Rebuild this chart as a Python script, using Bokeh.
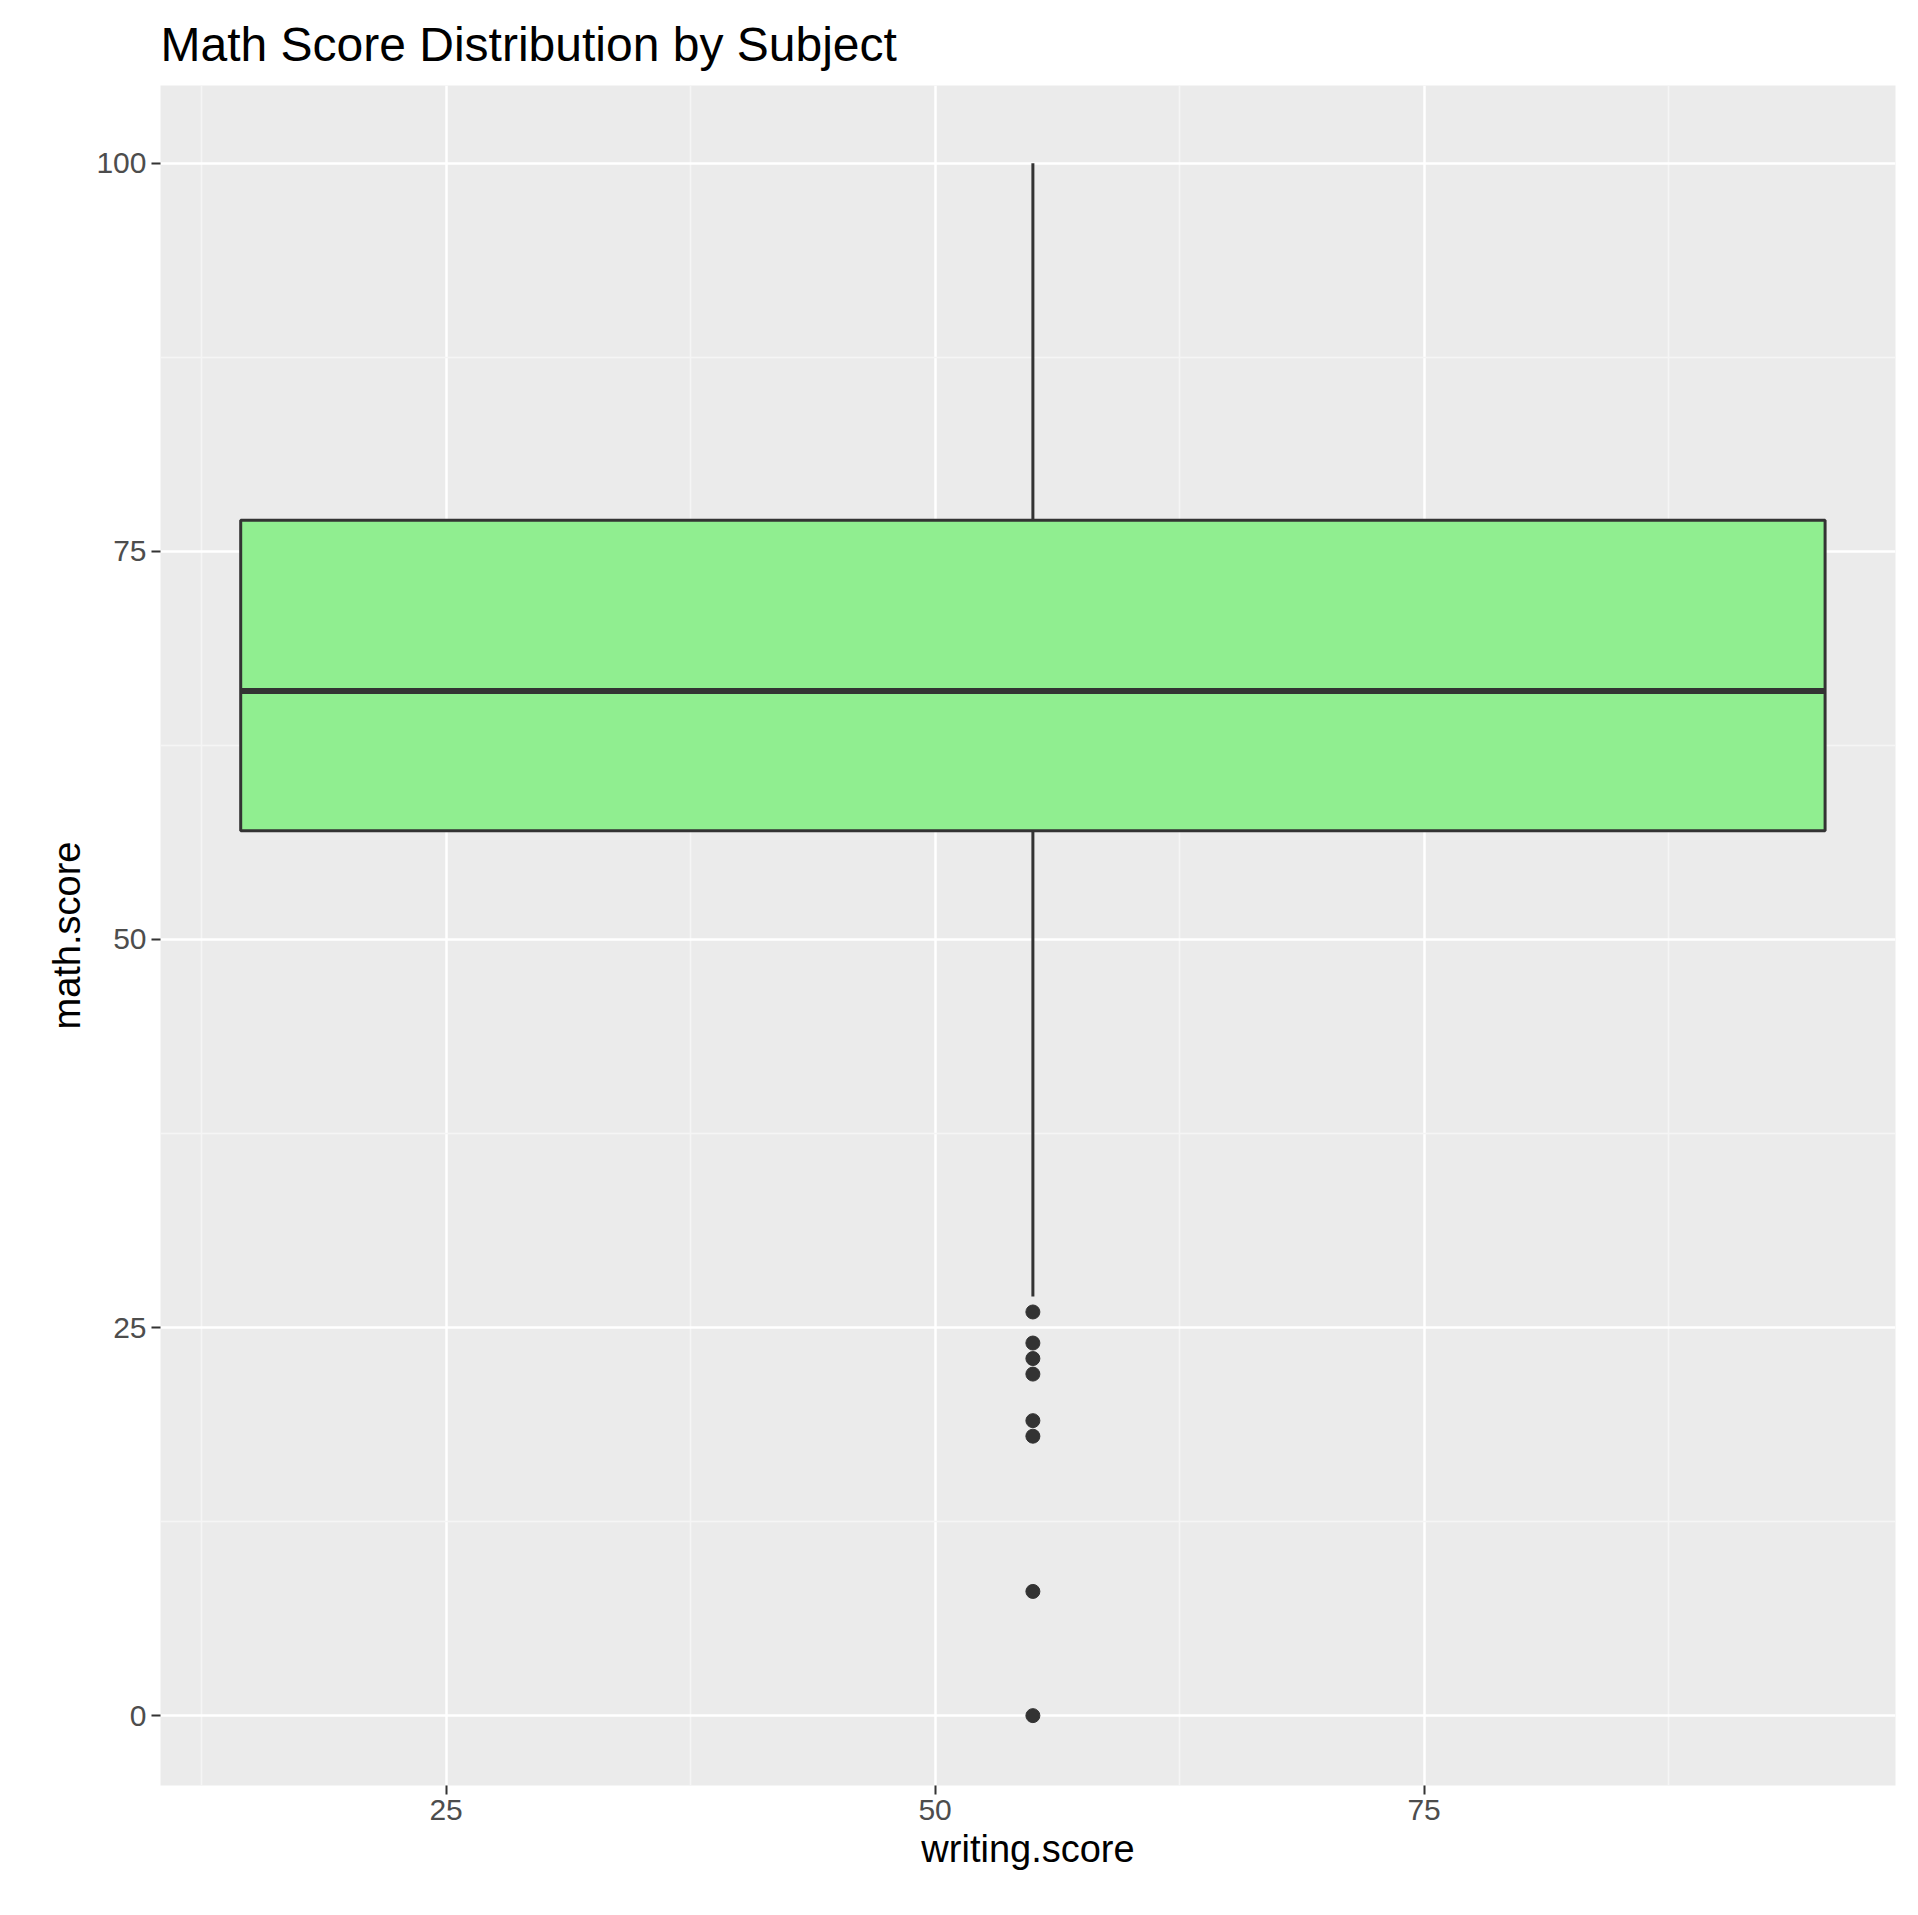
from bokeh.plotting import figure
from bokeh.models import FixedTicker, Range1d
from bokeh.embed import file_html
from bokeh.resources import INLINE

# box statistics of math.score
q1, median, q3 = 57, 66, 77
whisker_low, whisker_high = 27, 100
outliers = [26, 24, 23, 22, 19, 18, 8, 0]
box_center = 55
box_width = 81

x_ticks = [25, 50, 75]
y_ticks = [0, 25, 50, 75, 100]

p = figure(width=1905, height=1895, output_backend="svg", toolbar_location=None,
           title="Math Score Distribution by Subject",
           x_range=Range1d(10.4, 99.1), y_range=Range1d(-4.5, 105))
p.min_border_left = 160
p.min_border_right = 10
p.min_border_bottom = 110
p.background_fill_color = "#EBEBEB"
p.outline_line_color = None
p.title.text_font = "Arial"
p.title.text_font_size = "48px"
p.title.text_font_style = "normal"
p.title.text_color = "black"
p.title.offset = 0
p.title.standoff = 30

for ax, ticks in ((p.xaxis, x_ticks), (p.yaxis, y_ticks)):
    ax.ticker = FixedTicker(ticks=ticks, minor_ticks=[t + 12.5 for t in [0] + ticks] + [t - 12.5 for t in ticks])
    ax.axis_line_color = None
    ax.major_tick_in = 0
    ax.major_tick_out = 9
    ax.major_tick_line_color = "#333333"
    ax.major_tick_line_width = 2
    ax.minor_tick_line_color = None
    ax.major_label_text_font = "Arial"
    ax.major_label_text_font_size = "30px"
    ax.major_label_text_color = "#4D4D4D"
    ax.axis_label_text_font = "Arial"
    ax.axis_label_text_font_size = "38px"
    ax.axis_label_text_font_style = "normal"
    ax.axis_label_text_color = "black"
p.xaxis.axis_label = "writing.score"
p.yaxis.axis_label = "math.score"

p.grid.grid_line_color = "white"
p.grid.grid_line_width = 2.5
p.grid.minor_grid_line_color = "#F5F5F5"
p.grid.minor_grid_line_width = 1.5

p.segment(x0=[box_center, box_center], y0=[q3, whisker_low], x1=[box_center, box_center], y1=[whisker_high, q1],
          line_color="#333333", line_width=3)
p.quad(left=[box_center - box_width / 2], right=[box_center + box_width / 2], bottom=[q1], top=[q3],
       fill_color="#90EE90", line_color="#333333", line_width=3)
p.segment(x0=[box_center - box_width / 2], x1=[box_center + box_width / 2], y0=[median], y1=[median],
          line_color="#333333", line_width=6)
p.scatter(x=[box_center] * len(outliers), y=outliers, size=14, color="#333333")

open("out.html", "w").write(file_html(p, INLINE))
